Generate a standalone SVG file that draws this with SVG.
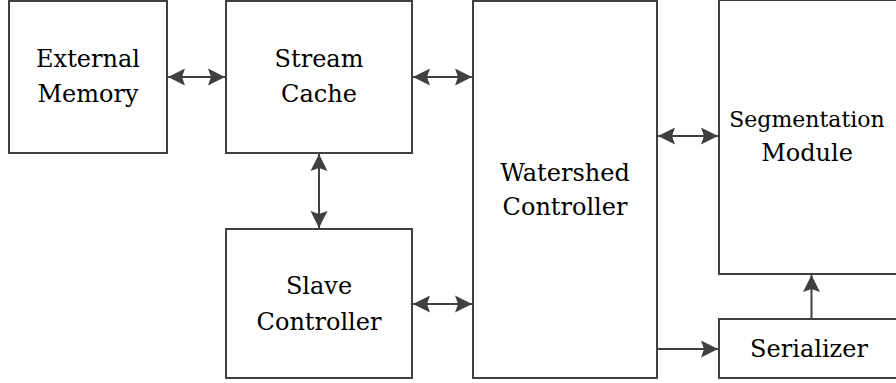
<svg xmlns="http://www.w3.org/2000/svg" width="896" height="383" viewBox="0 0 896 383">
<style>
.box{fill:#fff;stroke:#404040;stroke-width:2}
.ln{fill:none;stroke:#404040;stroke-width:2}
.t{font-size:24px;fill:#000;text-anchor:middle}
</style>
<defs>
<marker id="ah" viewBox="-17 -9 17 18" refX="0" refY="0" markerWidth="17" markerHeight="18" markerUnits="userSpaceOnUse" orient="auto-start-reverse">
<path d="M0,0 L-17,-8.5 L-14,0 L-17,8.5 Z" fill="#404040"/>
</marker>
</defs>
<rect width="896" height="383" fill="#fff"/>
<g id="external-memory"><rect class="box" x="9" y="1" width="158" height="152"/><text class="t" font-family="DejaVu Serif" x="88" y="67">External</text><text class="t" font-family="DejaVu Serif" x="88" y="102">Memory</text></g>
<g id="stream-cache"><rect class="box" x="226" y="1" width="186" height="152"/><text class="t" font-family="DejaVu Serif" x="319" y="67">Stream</text><text class="t" font-family="DejaVu Serif" x="319" y="102">Cache</text></g>
<g id="slave-controller"><rect class="box" x="226" y="229" width="186" height="149"/><text class="t" font-family="DejaVu Serif" x="319" y="294">Slave</text><text class="t" font-family="DejaVu Serif" x="319" y="330">Controller</text></g>
<g id="watershed-controller"><rect class="box" x="473" y="1" width="184" height="377"/><text class="t" font-family="DejaVu Serif" x="565" y="181">Watershed</text><text class="t" font-family="DejaVu Serif" x="565" y="215">Controller</text></g>
<g id="segmentation-module"><rect class="box" x="719" y="0" width="185" height="274"/><text class="t" font-family="DejaVu Serif" x="807" y="127" style="font-size:22px">Segmentation</text><text class="t" font-family="DejaVu Serif" x="807" y="161">Module</text></g>
<g id="serializer"><rect class="box" x="719" y="319" width="185" height="59"/><text class="t" font-family="DejaVu Serif" x="809" y="357">Serializer</text></g>
<g id="connectors">
<line class="ln" x1="168" y1="77" x2="225" y2="77" marker-start="url(#ah)" marker-end="url(#ah)"/>
<line class="ln" x1="413" y1="77" x2="472" y2="77" marker-start="url(#ah)" marker-end="url(#ah)"/>
<line class="ln" x1="319" y1="154" x2="319" y2="228" marker-start="url(#ah)" marker-end="url(#ah)"/>
<line class="ln" x1="413" y1="304" x2="472" y2="304" marker-start="url(#ah)" marker-end="url(#ah)"/>
<line class="ln" x1="658" y1="136" x2="718" y2="136" marker-start="url(#ah)" marker-end="url(#ah)"/>
<line class="ln" x1="658" y1="349" x2="718" y2="349" marker-end="url(#ah)"/>
<line class="ln" x1="811.5" y1="318" x2="811.5" y2="275" marker-end="url(#ah)"/>
</g>
</svg>
